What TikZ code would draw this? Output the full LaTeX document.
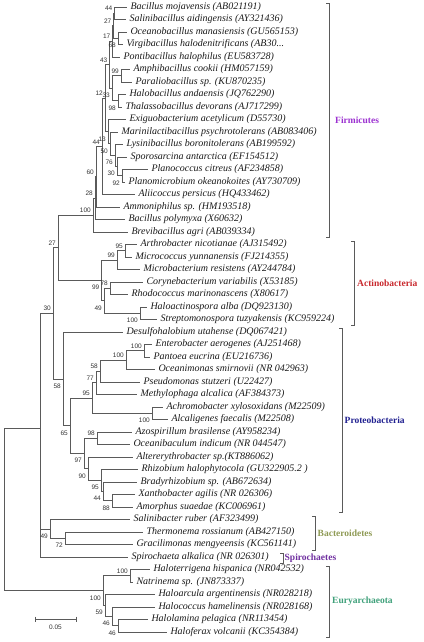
\documentclass[tikz,border=0pt]{standalone}
\usepackage{fontspec}
\setmainfont{Liberation Serif}
\newfontfamily\numsans{Liberation Sans}
\usetikzlibrary{positioning,calc}
\definecolor{treegray}{HTML}{5A5A5A}
\definecolor{firmcol}{HTML}{9B30D0}
\definecolor{actcol}{HTML}{C8282D}
\definecolor{protcol}{HTML}{202090}
\definecolor{bactcol}{HTML}{8F9A55}
\definecolor{spircol}{HTML}{7030A0}
\definecolor{eurycol}{HTML}{3FA07A}
\newcommand\leaffont{\fontsize{10}{10.5}\selectfont\itshape}
\newcommand\bsfont{\numsans\fontsize{6.5}{7}\selectfont}
\newcommand\grpfont{\fontsize{9.5}{10}\selectfont\bfseries}
\begin{document}
\begin{tikzpicture}[x=1pt,y=-1pt,
    branch/.style={draw=treegray,line width=0.75pt},
    clade/.style={draw=treegray,line width=0.75pt},
    leaf/.style={anchor=west,inner xsep=3.5pt,inner ysep=0pt,outer sep=0pt,font=\leaffont,text=black!90},
    bs/.style={font=\bsfont,inner xsep=2pt,inner ysep=0.5pt,text=black!80},
    bsu/.style={bs,anchor=south east,yshift=1.7pt},
    bsl/.style={bs,anchor=north east,yshift=-4.2pt},
    grp/.style={font=\grpfont,inner sep=1pt}]
  \useasboundingbox (0,0) rectangle (423,642);
  \foreach \n/\x/\y in {fa/114.5/13.25, fb/118/38.25, fc/113.5/25.75, fd/112.5/41.4,
      fe/121/75.75, ff/118/100.75, fg/112/88.25, fh/109.5/64.8, fi/115/155.4,
      fj/122/175.75, fk/117/166.4, fl/110/143.7, fm/108/131.6, fn/105/98.2,
      fo/102/146.4, fp/96/176.7, fq/95/198.1, fr/93/215,
      aa/125/250.75, ab/117/260.1, ac/110/288.25, ad/140/313.25, ae/104/300.75,
      af/101.5/280.4, b2/58/247.7,
      pa/144/350.75, pb/126/360.1, pc/100/371.1, pd/96/382.8, pe/152/413.25,
      pf/92/398, pg/97/438.25, ph/112/500.75, pi/103/491.4, pj/101/480.4,
      pk/88/468.7, pl/84/453.5, pm/70/425.75, pn/63/378.9, b1/53/313.3,
      ta/65/538.25, tb/50/528.9, b0/40/428,
      ea/130/575.75, eb/118/625.75, ec/112/616.4, ed/105/605.5, ee/103/590.6,
      rt/4/509.3}
    \coordinate (\n) at (\x,\y);
  \foreach \t/\s [count=\i] in {
      127/{Bacillus mojavensis (AB021191)},
      126/{Salinibacillus aidingensis (AY321436)},
      127/{Oceanobacillus manasiensis (GU565153)},
      123/{Virgibacillus halodenitrificans (AB30...},
      120/{Pontibacillus halophilus (EU583728)},
      130/{Amphibacillus cookii (HM057159)},
      132/{Paraliobacillus sp. (KU870235)},
      126/{Halobacillus andaensis (JQ762290)},
      122/{Thalassobacillus devorans (AJ717299)},
      126/{Exiguobacterium acetylicum (D55730)},
      118/{Marinilactibacillus psychrotolerans (AB083406)},
      123/{Lysinibacillus boronitolerans (AB199592)},
      127/{Sporosarcina antarctica (EF154512)},
      148/{Planococcus citreus (AF234858)},
      125/{Planomicrobium okeanokoites (AY730709)},
      135/{Aliicoccus persicus (HQ433462)},
      120/{Ammoniphilus sp. (HM193518)},
      125/{Bacillus polymyxa (X60632)},
      128/{Brevibacillus agri (AB039334)},
      137/{Arthrobacter nicotianae (AJ315492)},
      132/{Micrococcus yunnanensis (FJ214355)},
      140/{Microbacterium resistens (AY244784)},
      143/{Corynebacterium variabilis (X53185)},
      128/{Rhodococcus marinonascens (X80617)},
      147/{Haloactinospora alba (DQ923130)},
      157/{Streptomonospora tuzyakensis (KC959224)},
      123/{Desulfohalobium utahense (DQ067421)},
      152/{Enterobacter aerogenes (AJ251468)},
      150/{Pantoea eucrina (EU216736)},
      155/{Oceanimonas smirnovii (NR 042963)},
      140/{Pseudomonas stutzeri (U22427)},
      137/{Methylophaga alcalica (AF384373)},
      163/{Achromobacter xylosoxidans (M22509)},
      168/{Alcaligenes faecalis (M22508)},
      132/{Azospirillum brasilense (AY958234)},
      130/{Oceanibaculum indicum (NR 044547)},
      133/{Altererythrobacter sp.(KT886062)},
      138/{Rhizobium halophytocola (GU322905.2 )},
      137/{Bradyrhizobium sp. (AB672634)},
      135/{Xanthobacter agilis (NR 026306)},
      133/{Amorphus suaedae (KC006961)},
      130/{Salinibacter ruber (AF323499)},
      143/{Thermonema rossianum (AB427150)},
      133/{Gracilimonas mengyeensis (KC561141)},
      128/{Spirochaeta alkalica (NR 026301)},
      150/{Haloterrigena hispanica (NR042532)},
      133/{Natrinema sp. (JN873337)},
      155/{Haloarcula argentinensis (NR028218)},
      155/{Halococcus hamelinensis (NR028168)},
      148/{Halolamina pelagica (NR113454)},
      167/{Haloferax volcanii (KC354384)}}
    \node[leaf] (l\i) at (\t,{7+12.5*(\i-1)}) {\s};
  \foreach \p/\c in {fa/l1, fa/l2, fb/l3, fb/l4, fc/fa, fc/fb, fd/fc, fd/l5,
      fe/l6, fe/l7, ff/l8, ff/l9, fg/fe, fg/ff, fh/fd, fh/fg,
      fj/l14, fj/l15, fk/l13, fk/fj, fi/l12, fi/fk, fl/l11, fl/fi, fm/l10, fm/fl,
      fn/fh, fn/fm, fo/fn, fo/l16, fp/fo, fp/l17, fq/fp, fq/l18, fr/fq, fr/l19,
      aa/l20, aa/l21, ab/aa, ab/l22, ac/l23, ac/l24, ad/l25, ad/l26,
      ae/ac, ae/ad, af/ab, af/ae, b2/fr, b2/af,
      pa/l28, pa/l29, pb/pa, pb/l30, pc/pb, pc/l31, pd/pc, pd/l32,
      pe/l33, pe/l34, pf/pd, pf/pe, pg/l35, pg/l36, ph/l40, ph/l41,
      pi/l39, pi/ph, pj/l38, pj/pi, pk/l37, pk/pj, pl/pg, pl/pk,
      pm/pf, pm/pl, pn/l27, pn/pm, b1/b2, b1/pn,
      ta/l43, ta/l44, tb/l42, tb/ta, b0/b1, b0/tb, b0/l45,
      ea/l46, ea/l47, eb/l50, eb/l51, ec/l49, ec/eb, ed/l48, ed/ec,
      ee/ea, ee/ed, rt/b0, rt/ee}
    \draw[branch] (\p) |- (\c);
  \foreach \n/\v in {fa/44, fc/27, fd/17, fe/99, fh/43, fn/12, fo/44, fp/60, fq/28,
      fr/100, aa/95, ab/99, ac/78, b2/27, pa/100, pb/100, pc/58, pd/77, pf/95,
      pg/98, b1/30, ea/100}
    \node[bsu] (u\n) at (\n) {\v};
  \foreach \n/\v in {fb/68, ff/98, fg/33, fm/13, fl/50, fi/76, fk/30, fj/92,
      ad/100, ae/49, af/99, pe/100, ph/88, pi/44, pj/95, pk/90, pl/97, pm/65,
      pn/58, ta/72, tb/49, eb/46, ec/46, ed/59, ee/100}
    \node[bsl] (d\n) at (\n) {\v};
  \foreach \n/\x/\t/\b/\g/\c/\s in {firm/329/3/237/5/firmcol/Firmicutes,
      actino/354/241/325/2/actcol/Actinobacteria,
      proteo/342/328/512/1.5/protcol/Proteobacteria,
      bactero/315/516/550/1.5/bactcol/Bacteroidetes,
      spiro/283/553/563/0.5/spircol/Spirochaetes,
      eury/329/566/637/2/eurycol/Euryarchaeota}{
    \coordinate (\n-t) at (\x,\t);
    \coordinate (\n-b) at (\x,\b);
    \coordinate (\n-m) at ($(\n-t)!0.5!(\n-b)$);
    \draw[clade] ([xshift=-3pt]\n-t) -- (\n-t) -- (\n-b) -- ([xshift=-3pt]\n-b);
    \node[grp,text=\c,right=\g pt of \n-m] (\n) {\s};
  }
  \coordinate (sbl) at (35,619);
  \coordinate (sbr) at (76,619);
  \coordinate (sbm) at ($(sbl)!0.5!(sbr)$);
  \draw[branch] (sbl) -- (sbr);
  \draw[branch] ([yshift=2.5pt]sbl) -- ([yshift=-2.5pt]sbl);
  \draw[branch] ([yshift=2.5pt]sbr) -- ([yshift=-2.5pt]sbr);
  \node[bs,below=5pt of sbm] (sbt) {0.05};
\end{tikzpicture}
\end{document}
